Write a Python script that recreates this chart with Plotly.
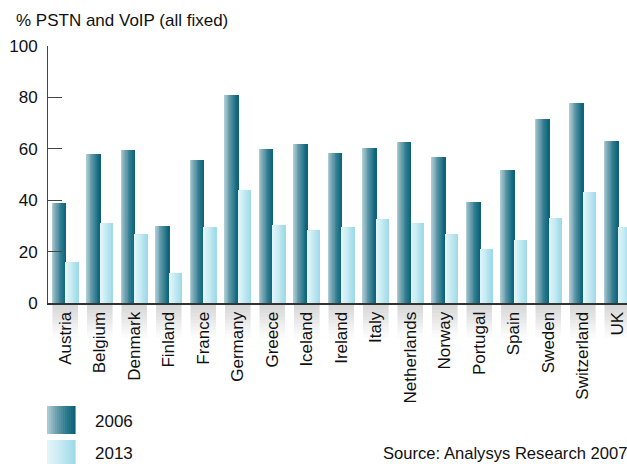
import plotly.graph_objects as go

# ---- data ----
countries = ["Austria", "Belgium", "Denmark", "Finland", "France", "Germany",
             "Greece", "Iceland", "Ireland", "Italy", "Netherlands", "Norway",
             "Portugal", "Spain", "Sweden", "Switzerland", "UK"]
share_2006 = [39, 58, 59.5, 30, 55.5, 81, 60, 61.7, 58.2, 60.2, 62.5, 57,
              39.2, 51.6, 71.5, 77.7, 63]
share_2013 = [16, 31, 26.7, 11.6, 29.5, 44, 30.5, 28.3, 29.5, 32.5, 31, 26.7,
              21, 24.4, 33, 43, 29.5]
series_names = ["2006", "2013"]
y_ticks = [0, 20, 40, 60, 80, 100]

# ---- layout geometry ----
W, H = 627, 464
ML, MR, MT, MB = 48, 0, 46, 161
PW, PH = W - ML - MR, H - MT - MB
FONT = "Liberation Sans, Arial, sans-serif"
FS = 17


def px_x(px):
    return (px - ML) / PW


def px_y(py):
    return (H - MB - py) / PH


def lerp_color(stops, t):
    # piecewise-linear interpolation across a list of RGB stops
    n = len(stops) - 1
    k = min(int(t * n), n - 1)
    f = t * n - k
    a, b = stops[k], stops[k + 1]
    return "rgb({},{},{})".format(*[round(a[i] + (b[i] - a[i]) * f) for i in range(3)])


grad_2006 = [(178, 208, 216), (110, 160, 175), (48, 125, 145), (10, 96, 118)]
grad_2013 = [(228, 246, 250), (196, 234, 242), (158, 218, 232)]

fig = go.Figure()


def add_gradient_bars(values, offset, width, stops, n_strips):
    step = width / n_strips
    for i in range(n_strips):
        fig.add_trace(go.Bar(
            x=countries, y=values,
            offset=offset + i * step,
            width=step * 1.35 if i < n_strips - 1 else step,
            marker=dict(color=lerp_color(stops, (i + 0.5) / n_strips),
                        line=dict(width=0)),
            showlegend=False, hoverinfo="skip",
        ))


add_gradient_bars(share_2006, -0.38, 0.40, grad_2006, 16)
add_gradient_bars(share_2013, 0.02, 0.36, grad_2013, 14)

shapes = []

# soft grey columns behind the category labels
fade_steps = 10
for ci in range(len(countries)):
    for s in range(fade_steps):
        g = round(214 + (255 - 214) * s / fade_steps)
        shapes.append(dict(
            type="rect", xref="x", yref="paper", layer="below",
            x0=ci - 0.37, x1=ci + 0.37,
            y0=px_y(H - MB + s * 3.4), y1=px_y(H - MB + (s + 1) * 3.4 + 0.6),
            fillcolor="rgb({0},{0},{0})".format(g), line=dict(width=0),
        ))

# legend swatches with the same horizontal gradients
legend_rows = [(406, grad_2006), (440, grad_2013)]
for top, stops in legend_rows:
    n = 14
    for i in range(n):
        shapes.append(dict(
            type="rect", xref="paper", yref="paper",
            x0=px_x(47 + i * 2), x1=px_x(47 + (i + 1) * 2 + 0.6),
            y0=px_y(top), y1=px_y(top + 28),
            fillcolor=lerp_color(stops, (i + 0.5) / n), line=dict(width=0),
        ))

annotations = [
    dict(text="% PSTN and VoIP (all fixed)", xref="paper", yref="paper",
         x=px_x(14), y=px_y(21), xanchor="left", yanchor="middle",
         showarrow=False, font=dict(size=FS, color="#111", family=FONT)),
    dict(text=series_names[0], xref="paper", yref="paper",
         x=px_x(93), y=px_y(421), xanchor="left", yanchor="middle",
         showarrow=False, font=dict(size=FS, color="#111", family=FONT)),
    dict(text=series_names[1], xref="paper", yref="paper",
         x=px_x(93), y=px_y(453), xanchor="left", yanchor="middle",
         showarrow=False, font=dict(size=FS, color="#111", family=FONT)),
    dict(text="Source: Analysys Research 2007", xref="paper", yref="paper",
         x=px_x(381), y=px_y(453), xanchor="left", yanchor="middle",
         showarrow=False, font=dict(size=16.6, color="#111", family=FONT)),
]

fig.update_layout(
    width=W, height=H,
    margin=dict(l=ML, r=MR, t=MT, b=MB, pad=0),
    paper_bgcolor="white", plot_bgcolor="white",
    barmode="overlay", bargap=0,
    showlegend=False,
    font=dict(family=FONT, size=FS, color="#111"),
    shapes=shapes, annotations=annotations,
    xaxis=dict(
        type="category", range=[-0.5, 16.28],
        tickangle=-90, ticks="", showgrid=False, zeroline=False,
        showline=True, linecolor="#333", linewidth=2,
        tickfont=dict(size=FS, color="#111", family=FONT),
    ),
    yaxis=dict(
        range=[0, 100], tickvals=y_ticks, ticktext=[str(v) for v in y_ticks],
        ticks="inside", ticklen=14, tickwidth=1, tickcolor="#444",
        showgrid=False, zeroline=False,
        showline=True, linecolor="#444", linewidth=1,
        ticklabelstandoff=6,
        tickfont=dict(size=FS, color="#111", family=FONT),
    ),
)

fig.write_html("out.html")
